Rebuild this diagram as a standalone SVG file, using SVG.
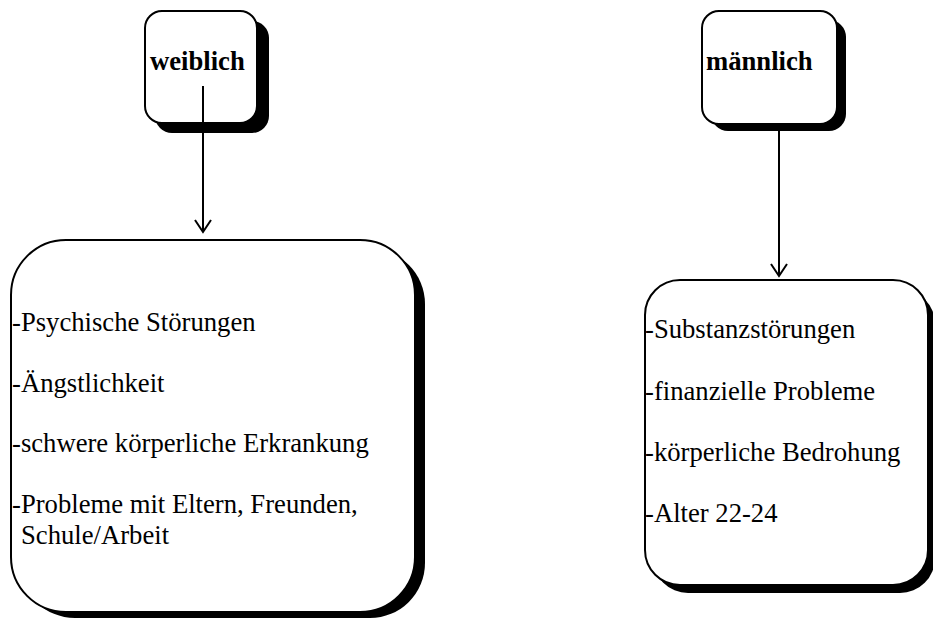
<svg xmlns="http://www.w3.org/2000/svg" width="933" height="620" viewBox="0 0 933 620">
  <style>
    .shadow { fill: #000; }
    .box { fill: #fff; stroke: #000; stroke-width: 2; }
    .head { font-family: "Liberation Serif", "Times New Roman", serif; font-size: 26.67px; font-weight: bold; fill: #000; }
    .item { font-family: "Liberation Serif", "Times New Roman", serif; font-size: 26.67px; fill: #000; }
    .edge { stroke: #000; stroke-width: 2; fill: none; }
  </style>
  <defs>
    <!-- open V arrowhead, drawn pointing along +x so orient="auto" turns it with the line -->
    <marker id="arrow" viewBox="0 0 20 20" refX="18" refY="10" markerWidth="20" markerHeight="20" markerUnits="userSpaceOnUse" orient="auto">
      <path d="M6,2 L18,10 L6,18" fill="none" stroke="#000" stroke-width="2"/>
    </marker>
  </defs>

  <rect width="933" height="620" fill="#fff"/>

  <g id="weiblich">
    <rect class="shadow" x="155" y="21" width="114" height="112" rx="17"/>
    <rect class="box" x="145" y="11" width="112" height="112" rx="17"/>
    <text class="head" x="150" y="70">weiblich</text>
  </g>

  <g id="maennlich">
    <rect class="shadow" x="711" y="20" width="135" height="111" rx="17"/>
    <rect class="box" x="702" y="11" width="135" height="113" rx="17"/>
    <text class="head" x="706" y="70">männlich</text>
  </g>

  <g id="risiken-weiblich">
    <rect class="shadow" x="20" y="249" width="405" height="369" rx="55"/>
    <rect class="box" x="11" y="240" width="404" height="372" rx="55"/>
    <text class="item" x="12" y="331">-Psychische Störungen</text>
    <text class="item" x="12" y="392">-Ängstlichkeit</text>
    <text class="item" x="12" y="452">-schwere körperliche Erkrankung</text>
    <text class="item" x="12" y="513">-Probleme mit Eltern, Freunden,</text>
    <text class="item" x="21" y="544">Schule/Arbeit</text>
  </g>

  <g id="risiken-maennlich">
    <rect class="shadow" x="653" y="289" width="282" height="304" rx="35"/>
    <rect class="box" x="645" y="280" width="283" height="305" rx="35"/>
    <text class="item" x="645" y="338">-Substanzstörungen</text>
    <text class="item" x="645" y="400">-finanzielle Probleme</text>
    <text class="item" x="645" y="461">-körperliche Bedrohung</text>
    <text class="item" x="645" y="522">-Alter 22-24</text>
  </g>

  <g id="connectors">
    <line class="edge" x1="203" y1="86" x2="203" y2="232" marker-end="url(#arrow)"/>
    <line class="edge" x1="779" y1="124" x2="779" y2="276" marker-end="url(#arrow)"/>
  </g>
</svg>
